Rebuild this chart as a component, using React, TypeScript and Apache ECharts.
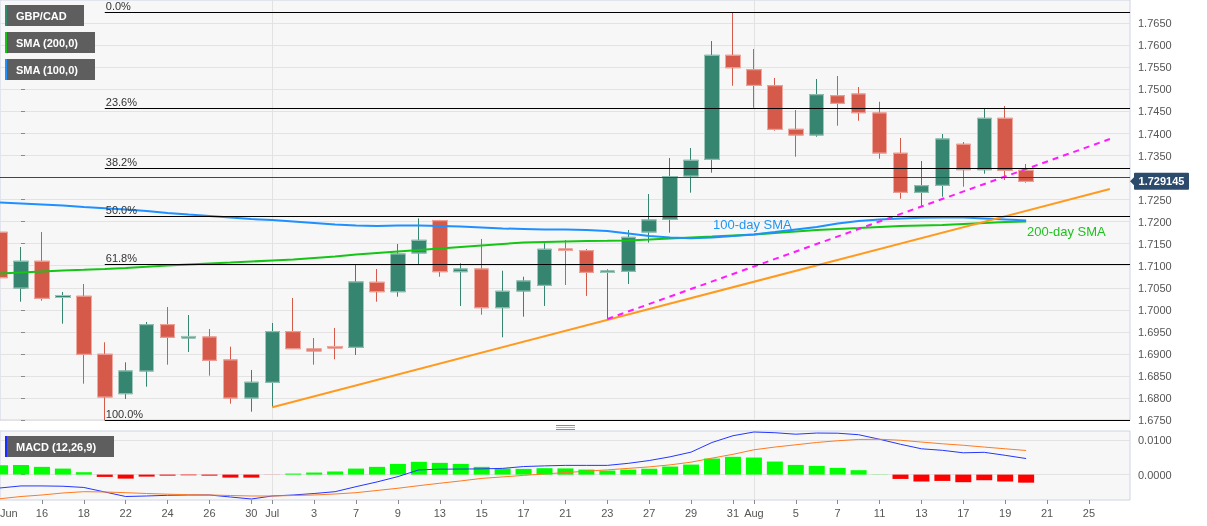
import React, { useEffect, useRef } from "react";
import * as echarts from "echarts";

// ---- DATA ----
const dates = [
  "06-12", "06-15", "06-16", "06-17", "06-18", "06-19", "06-22", "06-23", "06-24", "06-25", "06-26", "06-29", "06-30",
  "07-01", "07-02", "07-03", "07-06", "07-07", "07-08", "07-09", "07-10", "07-13", "07-14", "07-15", "07-16", "07-17",
  "07-20", "07-21", "07-22", "07-23", "07-24", "07-27", "07-28", "07-29", "07-30", "07-31",
  "08-03", "08-04", "08-05", "08-06", "08-07", "08-10", "08-11", "08-12", "08-13", "08-14", "08-17", "08-18", "08-19", "08-20",
];
const opens = [1.71759, 1.70495, 1.71101, 1.70279, 1.70307, 1.68991, 1.68097, 1.68612, 1.69663, 1.69361, 1.69383, 1.68862, 1.68000, 1.68356, 1.69504, 1.69111, 1.69168, 1.69150, 1.70624, 1.70411, 1.71289, 1.72022, 1.70865, 1.70926, 1.70048, 1.70427, 1.70556, 1.71380, 1.71341, 1.70847, 1.70874, 1.71765, 1.72054, 1.73036, 1.73415, 1.75774, 1.75447, 1.75084, 1.74095, 1.73966, 1.74857, 1.74896, 1.74465, 1.73551, 1.72666, 1.72825, 1.73755, 1.73179, 1.74345, 1.73165];
const closes = [1.70729, 1.71101, 1.70261, 1.70325, 1.68991, 1.68022, 1.68612, 1.69663, 1.69377, 1.69395, 1.68855, 1.68000, 1.68356, 1.69504, 1.69118, 1.69066, 1.69134, 1.70631, 1.70411, 1.71266, 1.71577, 1.70865, 1.70926, 1.70048, 1.70420, 1.70654, 1.71373, 1.71346, 1.70851, 1.70881, 1.71645, 1.72038, 1.73020, 1.73392, 1.75774, 1.75493, 1.75093, 1.74095, 1.73966, 1.74880, 1.74685, 1.74472, 1.73558, 1.72666, 1.72816, 1.73875, 1.73179, 1.74345, 1.73165, 1.72915];
const lows = [1.69935, 1.70184, 1.70207, 1.69685, 1.68324, 1.67500, 1.67977, 1.68256, 1.68755, 1.69043, 1.68506, 1.67870, 1.67689, 1.67789, 1.69111, 1.68755, 1.68877, 1.68975, 1.70184, 1.70298, 1.71039, 1.70751, 1.70087, 1.69889, 1.69377, 1.69844, 1.70087, 1.70563, 1.70314, 1.69792, 1.70586, 1.71523, 1.71750, 1.72657, 1.73111, 1.75084, 1.74585, 1.74064, 1.73474, 1.73927, 1.74177, 1.74290, 1.73428, 1.72521, 1.72339, 1.72566, 1.72793, 1.73088, 1.72945, 1.72884];
const highs = [1.71785, 1.71425, 1.71765, 1.70404, 1.70586, 1.69263, 1.68809, 1.69724, 1.70064, 1.69882, 1.69565, 1.69163, 1.68635, 1.69701, 1.70268, 1.69361, 1.69588, 1.71033, 1.70926, 1.71493, 1.72076, 1.72038, 1.71055, 1.71607, 1.70887, 1.70751, 1.71509, 1.71584, 1.71380, 1.70919, 1.71811, 1.72627, 1.73444, 1.73671, 1.76098, 1.76740, 1.75917, 1.75259, 1.74533, 1.75236, 1.75304, 1.75055, 1.74721, 1.73898, 1.73376, 1.73989, 1.73807, 1.74572, 1.74624, 1.73308];
const sma100 = [1.72435, 1.72412, 1.72389, 1.72367, 1.72333, 1.72305, 1.72276, 1.72242, 1.72197, 1.72162, 1.72128, 1.72094, 1.72060, 1.72038, 1.72004, 1.71970, 1.71936, 1.71913, 1.71902, 1.71913, 1.71913, 1.71902, 1.71890, 1.71868, 1.71845, 1.71834, 1.71822, 1.71822, 1.71811, 1.71788, 1.71731, 1.71675, 1.71641, 1.71623, 1.71641, 1.71675, 1.71709, 1.71765, 1.71822, 1.71879, 1.71958, 1.72015, 1.72049, 1.72072, 1.72088, 1.72094, 1.72094, 1.72072, 1.72049, 1.72026];
const sma200 = [1.70824, 1.70847, 1.70869, 1.70892, 1.70908, 1.70926, 1.70949, 1.70976, 1.71005, 1.71028, 1.71051, 1.71073, 1.71096, 1.71119, 1.71142, 1.71176, 1.71210, 1.71255, 1.71289, 1.71323, 1.71357, 1.71391, 1.71425, 1.71459, 1.71493, 1.71527, 1.71539, 1.71550, 1.71561, 1.71566, 1.71573, 1.71595, 1.71618, 1.71641, 1.71663, 1.71686, 1.71709, 1.71743, 1.71777, 1.71811, 1.71834, 1.71856, 1.71879, 1.71902, 1.71913, 1.71924, 1.71947, 1.71970, 1.71992, 1.72004];
const macdLine = [-0.00387, -0.00328, -0.00328, -0.00337, -0.00372, -0.00503, -0.00634, -0.00619, -0.00599, -0.0059, -0.0059, -0.00648, -0.00706, -0.00619, -0.0059, -0.00547, -0.00494, -0.00349, -0.00212, -0.00058, 0.00137, 0.00157, 0.0016, 0.00166, 0.0018, 0.00233, 0.00253, 0.00267, 0.00267, 0.00267, 0.00326, 0.00407, 0.00515, 0.00651, 0.0093, 0.01125, 0.01233, 0.01212, 0.01169, 0.01203, 0.01198, 0.01154, 0.01023, 0.00878, 0.00747, 0.00703, 0.00631, 0.00645, 0.00558, 0.00465];
const signalLine = [-0.00698, -0.00634, -0.0059, -0.00532, -0.00494, -0.00503, -0.00523, -0.00547, -0.00567, -0.00581, -0.0059, -0.00605, -0.00619, -0.00619, -0.00605, -0.0059, -0.00561, -0.00523, -0.00459, -0.00395, -0.0032, -0.0025, -0.00183, -0.0011, -0.00067, -0.00023, 0.0002, 0.00058, 0.00099, 0.00137, 0.0018, 0.00224, 0.00282, 0.0036, 0.00477, 0.00587, 0.00718, 0.00797, 0.00863, 0.0093, 0.0098, 0.01017, 0.01023, 0.00994, 0.00942, 0.00892, 0.00849, 0.00797, 0.00747, 0.00698];
const histogram = [0.00273, 0.0028, 0.00224, 0.00174, 0.0007, -0.00067, -0.00116, -0.00058, -0.0003, -0.0002, -0.0003, -0.00087, -0.00087, -0.00003, 0.0003, 0.0006, 0.0009, 0.00174, 0.00224, 0.0031, 0.0037, 0.0034, 0.0031, 0.00224, 0.00174, 0.00166, 0.00186, 0.0018, 0.00145, 0.00116, 0.00145, 0.0017, 0.00233, 0.0029, 0.00465, 0.00515, 0.00494, 0.00378, 0.0028, 0.00253, 0.00195, 0.00128, 0.00005, -0.00125, -0.002, -0.00183, -0.0022, -0.00163, -0.002, -0.00233];

// trading-day positions (Jun 15 = 0) and date tick labels
const xTickPos = [-1, 1, 3, 5, 7, 9, 11, 12, 14, 16, 18, 20, 22, 24, 26, 28, 30, 32, 34, 35, 37, 39, 41, 43, 45, 47, 49, 51];
const xTickLabels = ["Jun", "16", "18", "22", "24", "26", "30", "Jul", "3", "7", "9", "13", "15", "17", "21", "23", "27", "29", "31", "Aug", "5", "7", "11", "13", "17", "19", "21", "25"];
const monthStarts = [12, 35];
const priceTicks = [1.675, 1.68, 1.685, 1.69, 1.695, 1.7, 1.705, 1.71, 1.715, 1.72, 1.725, 1.73, 1.735, 1.74, 1.745, 1.75, 1.755, 1.76, 1.765];
const macdTicks = [0, 0.01];

const fibLabels = ["0.0%", "23.6%", "38.2%", "50.0%", "61.8%", "100.0%"];
const fibValues = [1.7675, 1.74565, 1.73213, 1.72125, 1.71037, 1.675];
const fibStartPos = 4;
const supportLine = [[12, 1.67789], [52.0, 1.72741]];
const risingLine = [[28, 1.69792], [52.0, 1.73875]];
const lastPrice = 1.729145;

const X_MIN = -1.003;
const X_MAX = 52.96;

const GREEN = "#358571";
const RED = "#d55a49";
const FONT = 'Arial, "Liberation Sans", Helvetica, sans-serif';

export default function App() {
  const ref = useRef<HTMLDivElement>(null);

  useEffect(() => {
    const el = ref.current;
    if (!el) return;
    const chart = echarts.init(el, null, { renderer: "svg" });
    const pos = (i: number) => i - 1;

    const candleData = dates.map((_, i) => [pos(i), opens[i], closes[i], lows[i], highs[i]]);
    const bodyData = dates.map((_, i) => [
      pos(i), opens[i], closes[i], Math.min(opens[i], closes[i]), Math.max(opens[i], closes[i]),
    ]);

    const labelFor = (v: number) => {
      const k = xTickPos.findIndex((p) => Math.abs(p - v) < 1e-6);
      return k >= 0 && xTickPos[k] >= 0 ? xTickLabels[k] : "";
    };
    const axisTicks = xTickPos.filter((p) => p >= 0);
    // the price tag covers the tick label next to the last price
    const priceLabelTicks = priceTicks.filter((t) => Math.abs(t - lastPrice) > 0.002);

    const fibMarks = fibLabels.map((name, k) => [
      { coord: [fibStartPos, fibValues[k]], name },
      { coord: [X_MAX, fibValues[k]] },
    ]);

    const legendBox = (id: string, y: number, w: number, text: string, color: string) => ({
      type: "group",
      id,
      children: [
        { type: "rect", z: 100, shape: { x: 5, y, width: w, height: 21 }, style: { fill: "#5e5e5e" } },
        { type: "rect", z: 101, shape: { x: 5, y, width: 2, height: 21 }, style: { fill: color } },
        {
          type: "text", z: 102,
          x: 16,
          y: y + 10.5,
          style: { text, fill: "#ffffff", font: `bold 11px ${FONT}`, verticalAlign: "middle" },
        },
      ],
    });

    const baseGraphics: any[] = [
      legendBox("lg1", 5, 79, "GBP/CAD", "#2f8a70"),
      legendBox("lg2", 32, 90, "SMA (200,0)", "#16c416"),
      legendBox("lg3", 59, 90, "SMA (100,0)", "#1e90ff"),
      legendBox("lg4", 436, 109, "MACD (12,26,9)", "#1a2cff"),
      {
        type: "text", id: "t100", z: 100, x: 713, y: 224,
        style: { text: "100-day SMA", fill: "#2196f3", font: `13px ${FONT}`, verticalAlign: "middle" },
      },
      {
        type: "text", id: "t200", z: 100, x: 1027, y: 231,
        style: { text: "200-day SMA", fill: "#1ec21e", font: `13px ${FONT}`, verticalAlign: "middle" },
      },
      {
        type: "text", id: "tjun", z: 100, x: 0, y: 513,
        style: { text: xTickLabels[0], fill: "#555", font: `11px ${FONT}`, verticalAlign: "middle" },
      },
      { type: "line", id: "h1", z: 100, shape: { x1: 556, y1: 425.5, x2: 575, y2: 425.5 }, style: { stroke: "#8c8c8c", lineWidth: 1 } },
      { type: "line", id: "h2", z: 100, shape: { x1: 556, y1: 427.5, x2: 575, y2: 427.5 }, style: { stroke: "#b5b5b5", lineWidth: 1 } },
      { type: "line", id: "h3", z: 100, shape: { x1: 556, y1: 429.5, x2: 575, y2: 429.5 }, style: { stroke: "#8c8c8c", lineWidth: 1 } },
    ];

    const option: any = {
      animation: false,
      textStyle: { fontFamily: FONT },
      grid: [
        { left: 0, top: 0, width: 1130, height: 420, show: true, backgroundColor: "#f7f7f7", borderColor: "#cdd4e3", borderWidth: 1 },
        { left: 0, top: 431, width: 1130, height: 69, show: true, backgroundColor: "#f7f7f7", borderColor: "#cdd4e3", borderWidth: 1 },
      ],
      xAxis: [
        {
          type: "value", gridIndex: 0, min: X_MIN, max: X_MAX,
          axisLine: { show: false, onZero: false }, axisLabel: { show: false },
          axisTick: { show: false, customValues: monthStarts },
          splitLine: { show: true, lineStyle: { color: "#e2e2e2" } },
        },
        {
          type: "value", gridIndex: 1, min: X_MIN, max: X_MAX, position: "bottom",
          axisLine: { show: false, onZero: false },
          axisTick: { show: true, customValues: axisTicks, length: 4, lineStyle: { color: "#8a8a8a" } },
          axisLabel: { customValues: axisTicks, formatter: labelFor, color: "#555", fontSize: 11, margin: 7, fontFamily: FONT },
          splitLine: { show: false },
        },
        {
          type: "value", gridIndex: 1, min: X_MIN, max: X_MAX, position: "top",
          axisLine: { show: false, onZero: false }, axisLabel: { show: false },
          axisTick: { show: false, customValues: monthStarts },
          splitLine: { show: true, lineStyle: { color: "#e2e2e2" } },
        },
      ],
      yAxis: [
        {
          type: "value", gridIndex: 0, position: "right", min: 1.675, max: 1.77029,
          axisLine: { show: false },
          axisTick: { show: true, customValues: priceTicks, length: 4, lineStyle: { color: "#8a8a8a" } },
          axisLabel: { customValues: priceLabelTicks, formatter: (v: number) => v.toFixed(4), color: "#555", fontSize: 11, margin: 8, fontFamily: FONT },
          splitLine: { show: true, lineStyle: { color: "#e3e3e3" } },
        },
        {
          type: "value", gridIndex: 1, position: "right", min: -0.00735, max: 0.01262,
          axisLine: { show: false },
          axisTick: { show: true, customValues: macdTicks, length: 4, lineStyle: { color: "#8a8a8a" } },
          axisLabel: { customValues: macdTicks, formatter: (v: number) => v.toFixed(4), color: "#555", fontSize: 11, margin: 8, fontFamily: FONT },
          splitLine: { show: true, lineStyle: { color: "#e3e3e3" } },
        },
      ],
      series: [
        {
          type: "candlestick", xAxisIndex: 0, yAxisIndex: 0, data: candleData,
          encode: { x: 0, y: [1, 2, 3, 4] }, barWidth: 15,
          itemStyle: { color: GREEN, color0: RED, borderColor: GREEN, borderColor0: RED, borderWidth: 1 },
        },
        {
          type: "candlestick", xAxisIndex: 0, yAxisIndex: 0, data: bodyData,
          encode: { x: 0, y: [1, 2, 3, 4] }, barWidth: 15,
          itemStyle: { color: GREEN, color0: RED, borderColor: "#9fc7ba", borderColor0: "#f0aaa2", borderWidth: 1 },
          markLine: {
            silent: true, symbol: ["none", "none"], animation: false,
            lineStyle: { color: "#000", width: 1, type: "solid" },
            label: { show: true, position: "insideStartTop", formatter: "{b}", color: "#333", fontSize: 11, distance: 1, fontFamily: FONT },
            data: [
              ...fibMarks,
              { yAxis: lastPrice, name: "", lineStyle: { color: "#34495e", width: 1 }, label: { show: false } },
            ],
          },
        },
        {
          type: "line", xAxisIndex: 0, yAxisIndex: 0, showSymbol: false,
          data: dates.map((_, i) => [pos(i), sma200[i]]),
          lineStyle: { color: "#16c416", width: 2 },
        },
        {
          type: "line", xAxisIndex: 0, yAxisIndex: 0, showSymbol: false,
          data: dates.map((_, i) => [pos(i), sma100[i]]),
          lineStyle: { color: "#1e90ff", width: 2 },
        },
        {
          type: "line", xAxisIndex: 0, yAxisIndex: 0, showSymbol: false, data: supportLine,
          lineStyle: { color: "#ff9a1f", width: 2 },
        },
        {
          type: "line", xAxisIndex: 0, yAxisIndex: 0, showSymbol: false, data: risingLine,
          lineStyle: { color: "#ff1aff", width: 2, type: [6, 5] },
        },
        {
          type: "bar", xAxisIndex: 1, yAxisIndex: 1, barWidth: 16,
          data: dates.map((_, i) => [pos(i), histogram[i]]),
          itemStyle: { color: (p: any) => (p.value[1] >= 0 ? "#00ff00" : "#ff0000") },
        },
        {
          type: "line", xAxisIndex: 1, yAxisIndex: 1, showSymbol: false,
          data: dates.map((_, i) => [pos(i), macdLine[i]]),
          lineStyle: { color: "#2436ff", width: 1 },
        },
        {
          type: "line", xAxisIndex: 1, yAxisIndex: 1, showSymbol: false,
          data: dates.map((_, i) => [pos(i), signalLine[i]]),
          lineStyle: { color: "#ff7a22", width: 1 },
        },
      ],
      graphic: baseGraphics,
    };

    chart.setOption(option);

    const py = chart.convertToPixel({ yAxisIndex: 0 }, lastPrice) as number;
    const pxRight = chart.convertToPixel({ xAxisIndex: 0 }, X_MAX) as number;
    chart.setOption({
      graphic: [
        ...baseGraphics,
        {
          type: "group", id: "priceTag",
          children: [
            { type: "polygon", z: 120, shape: { points: [[pxRight, py], [pxRight + 5, py - 5], [pxRight + 5, py + 5]] }, style: { fill: "#2c4a6c" } },
            { type: "rect", z: 120, shape: { x: pxRight + 4, y: py - 8.5, width: 55, height: 17, r: 1 }, style: { fill: "#2c4a6c" } },
            {
              type: "text", z: 121, x: pxRight + 31.5, y: py,
              style: { text: lastPrice.toFixed(6), fill: "#fff", font: `bold 11px ${FONT}`, align: "center", verticalAlign: "middle" },
            },
          ],
        },
      ],
    });

    return () => chart.dispose();
  }, []);

  return <div ref={ref} style={{ position: "fixed", left: 0, top: 0, width: 1207, height: 526 }} />;
}
